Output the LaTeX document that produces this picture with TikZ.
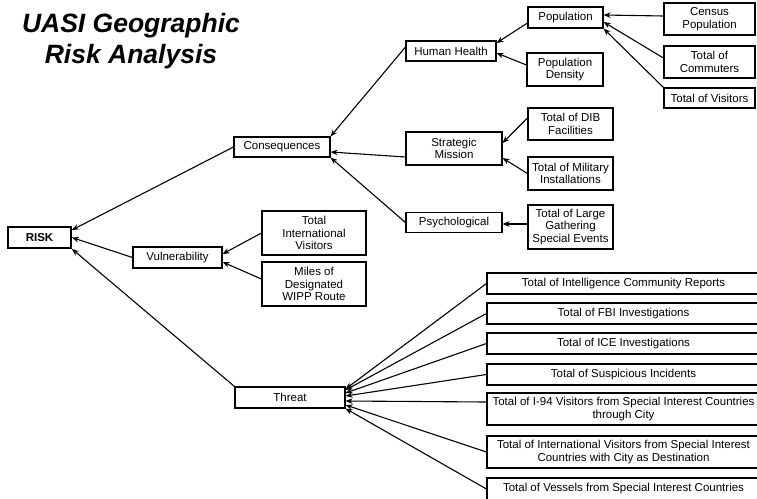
\documentclass[tikz,border=0pt]{standalone}
\usepackage{fontspec}
\setmainfont{Liberation Sans}
\usepackage{tikz}
\usetikzlibrary{calc,arrows.meta,positioning}
\tikzset{
box/.style={draw, line width=1.1pt, fill=white, align=center, inner sep=1pt,
  font=\fontsize{11.5}{12.6}\selectfont}, % every rectangle of the tree
link/.style={line width=1.1pt, -{Stealth[length=7pt,width=5.5pt]}}, % arrow to the parent
}
\tikzset{
    sized/.style args={#1 and #2}{
         minimum width=#1, minimum height=#2
    }
}

\begin{document}
\begin{tikzpicture}[x=1pt, y=-1pt]
        \useasboundingbox (0,0) rectangle (757,498);
        \clip (0,0) rectangle (757,498);
        \node[font=\fontsize{26.5}{31}\selectfont\bfseries\itshape, align=center] (title) at (131,41)
            {UASI Geographic\\Risk Analysis};
        % top level
        \node[box, sized=63pt and 21pt, line width=1.8pt, font=\fontsize{11.5}{12.6}\selectfont\bfseries] (risk) at (39.5,237.5) {RISK};
        \node[box, sized=96pt and 20pt] (conseq) at (282,147) {Consequences};
        \node[box, sized=89pt and 21pt] (vuln) at (177.5,257.5) {Vulnerability};
        \node[box, sized=110pt and 21pt] (threat) at (290,397.5) {Threat};
        % consequences
        \node[box, sized=90pt and 20pt] (health) at (451,51) {Human Health};
        \node[box, sized=96pt and 33pt] (strat) at (454,148.5) {Strategic\\Mission};
        \node[box, sized=96pt and 20pt] (psych) at (454,222.5) {Psychological};
        \node[box, sized=75pt and 21pt] (popul) at (565.5,17.5) {Population};
        \node[box, sized=76pt and 33pt] (popdens) at (565,69.5) {Population\\Density};
        \node[box, sized=91pt and 32pt] (census) at (709.5,19) {Census\\Population};
        \node[box, sized=91pt and 32pt] (commut) at (709.5,62) {Total of\\Commuters};
        \node[box, sized=91pt and 20pt] (visit) at (709.5,98) {Total of Visitors};
        \node[box, sized=85pt and 32pt] (dib) at (570.5,124) {Total of DIB\\Facilities};
        \node[box, sized=85pt and 33pt] (milit) at (570.5,173.5) {Total of Military\\Installations};
        \node[box, sized=85pt and 44pt] (gather) at (570.5,227) {Total of Large\\Gathering\\Special Events};
        % vulnerability
        \node[box, sized=104pt and 44pt] (intlvis) at (314,233) {Total\\International\\Visitors};
        \node[box, sized=104pt and 44pt] (wipp) at (314,284) {Miles of\\Designated\\WIPP Route};
        % threat
        \node[box, sized=273pt and 21pt] (intel) at (623.5,283.5) {Total of Intelligence Community Reports};
        \node[box, sized=273pt and 21pt] (fbi) at (623.5,313.5) {Total of FBI Investigations};
        \node[box, sized=273pt and 21pt] (ice) at (623.5,343.5) {Total of ICE Investigations};
        \node[box, sized=273pt and 21pt] (susp) at (623.5,374.5) {Total of Suspicious Incidents};
        \node[box, sized=273pt and 32pt] (ivisit) at (623.5,409) {Total of I-94 Visitors from Special Interest Countries\\through City};
        \node[box, sized=273pt and 32pt] (idest) at (623.5,452) {Total of International Visitors from Special Interest\\Countries with City as Destination};
        \node[box, sized=273pt and 22pt] (vessel) at (623.5,489) {Total of Vessels from Special Interest Countries};
        \path[link]
        ([yshift=3pt]census.west) edge ([yshift=2.5pt]popul.east)
        ([yshift=4pt]commut.west) edge ([yshift=-4.5pt]popul.east)
        (visit.north west) edge (popul.south east)
        ([yshift=-5.5pt]popul.west) edge ([yshift=8pt]health.east)
        ([yshift=4.5pt]popdens.west) edge ([yshift=-2pt]health.east)
        ([yshift=4pt]health.west) edge (conseq.north east)
        ([yshift=6pt]dib.west) edge ([yshift=5.5pt]strat.east)
        (milit.west) edge ([yshift=-9.5pt]strat.east)
        ([yshift=3pt]gather.west) edge ([yshift=-1.5pt]psych.east)
        ([yshift=-8.5pt]strat.west) edge ([yshift=-5pt]conseq.east)
        (psych.west) edge (conseq.south east)
        (conseq.west) edge ([yshift=7.5pt]risk.east)
        (intlvis.west) edge ([yshift=3.5pt]vuln.east)
        ([yshift=5pt]wipp.west) edge ([yshift=-4.5pt]vuln.east)
        (vuln.west) edge (risk.east)
        (threat.north west) edge (risk.south east)
        (intel.west) edge ([yshift=8.5pt]threat.east)
        (fbi.west) edge ([yshift=7.5pt]threat.east)
        (ice.west) edge ([yshift=4.5pt]threat.east)
        (susp.west) edge ([yshift=1.5pt]threat.east)
        ([yshift=7pt]ivisit.west) edge ([yshift=-3.5pt]threat.east)
        (idest.west) edge ([yshift=-7.5pt]threat.east)
        (vessel.west) edge (threat.south east);
\end{tikzpicture}
\end{document}
